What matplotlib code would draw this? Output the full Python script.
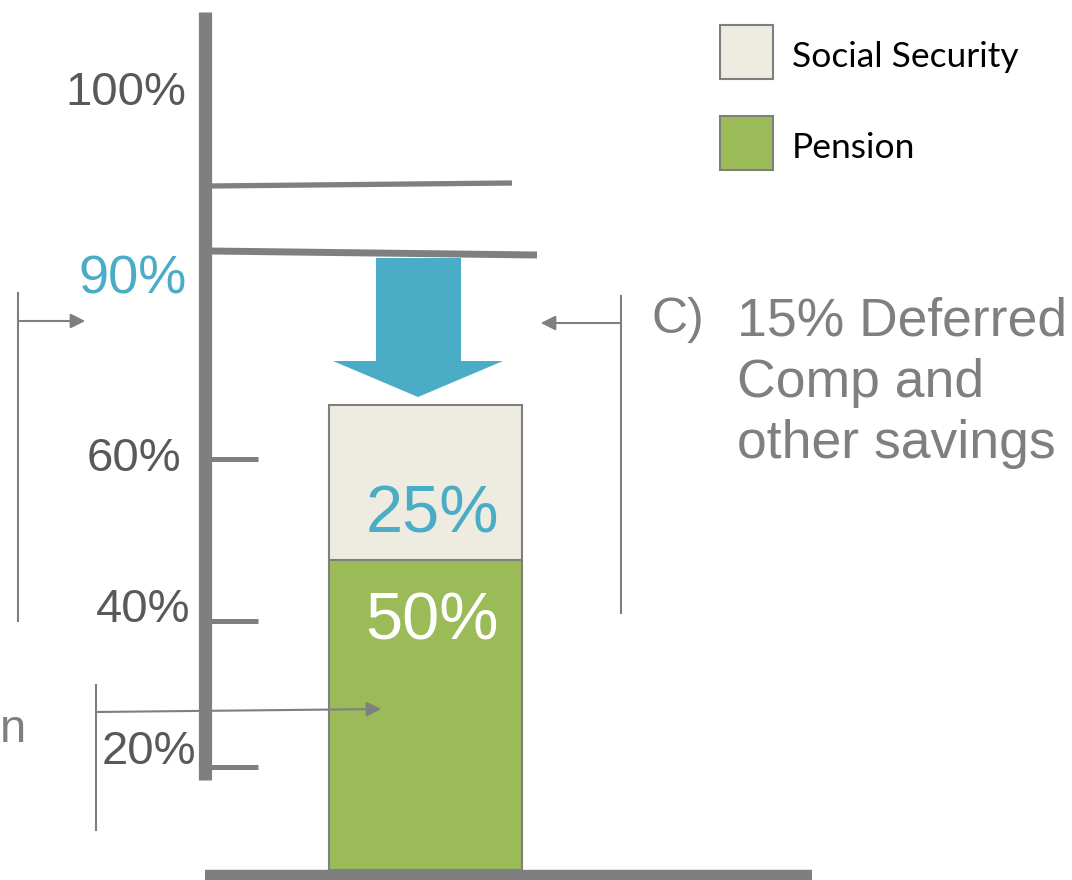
import matplotlib
matplotlib.use("Agg")
from matplotlib import pyplot as plt
from matplotlib.patches import Polygon

# values shown in the chart
segments = ["Pension", "Social Security"]
seg_values = [50, 25]
seg_colors = ["#9bbb59", "#eeece1"]
seg_labels = ["50%", "25%"]
seg_label_colors = ["white", "#4bacc6"]
scale_labels = ["100%", "90%", "60%", "40%", "20%"]
scale_label_y = [93, 280, 459, 610, 752]
scale_label_colors = ["#595959", "#4bacc6", "#595959", "#595959", "#595959"]
note_text = "15% Deferred\nComp and\nother savings"

GRAY = "#7f7f7f"
W, H = 1072, 880
px_per_pct = 6.2
base_px = 870

plt.rcParams["font.family"] = ["Liberation Sans", "DejaVu Sans"]
fig = plt.figure(figsize=(W / 100, H / 100), dpi=100)

# bar axes: x in pixels, y in percent
ax = fig.add_axes([0, 0, 1, 1])
ax.set_xlim(0, W)
ax.set_ylim((base_px - H) / px_per_pct, base_px / px_per_pct)
ax.axis("off")

bottom = 0
label_offsets = [10, 17.8]  # distance of value label below segment top
for name, val, col, lab, lcol, off in zip(segments, seg_values, seg_colors, seg_labels,
                                          seg_label_colors, label_offsets):
    ax.bar(425.5, val, width=193, bottom=bottom, color=col, edgecolor=GRAY, linewidth=1.5, zorder=2)
    ax.text(432, bottom + val - off, lab, color=lcol, fontsize=48, ha="center", va="center", zorder=3)
    bottom += val

# decoration axes in pixel coordinates
d = fig.add_axes([0, 0, 1, 1], zorder=5)
d.set_xlim(0, W)
d.set_ylim(H, 0)
d.axis("off")
d.patch.set_alpha(0)

# thin bracket arrows
d.plot([18, 18], [293, 621], color=GRAY, lw=1.5)
d.annotate("", xy=(88, 321), xytext=(17, 321),
           arrowprops=dict(arrowstyle="-|>", color=GRAY, lw=1.5, mutation_scale=22))
d.plot([621, 621], [296, 613], color=GRAY, lw=1.5)
d.annotate("", xy=(538, 323), xytext=(622, 323),
           arrowprops=dict(arrowstyle="-|>", color=GRAY, lw=1.5, mutation_scale=22))
d.plot([96, 96], [685, 830], color=GRAY, lw=1.5)
d.annotate("", xy=(384, 709), xytext=(95, 712),
           arrowprops=dict(arrowstyle="-|>", color=GRAY, lw=1.5, mutation_scale=22))

# main vertical scale and ticks
d.plot([205, 205], [12, 780], color=GRAY, lw=9.5, solid_capstyle="butt")
for ty in [459, 621, 767]:
    d.plot([210, 258], [ty, ty], color=GRAY, lw=3.6, solid_capstyle="butt")
d.plot([210, 512], [186, 183], color=GRAY, lw=3.8, solid_capstyle="butt")
d.plot([210, 537], [251, 255], color=GRAY, lw=5, solid_capstyle="butt")
d.plot([205, 812], [875, 875], color=GRAY, lw=7.5, solid_capstyle="butt")

# blue drop arrow
d.add_patch(Polygon([(376, 258), (461, 258), (461, 361), (503, 361), (418, 397),
                     (333, 361), (376, 361)], closed=True, color="#4bacc6", lw=0))

label_right = [186, 187, 181, 190, 196]
for lab, y, c, xr in zip(scale_labels, scale_label_y, scale_label_colors, label_right):
    fs = 39 if lab == "90%" else 34
    d.text(xr, y, lab, color=c, fontsize=fs, ha="right", va="center")

d.text(0, 730, "n", color=GRAY, fontsize=34, ha="left", va="center")
d.text(651, 320, "C)", color=GRAY, fontsize=36, ha="left", va="center")
d.text(737, 296, note_text, color=GRAY, fontsize=38.5, ha="left", va="top", linespacing=1.3)

# legend
for i, (name, col) in enumerate(zip(segments[::-1], seg_colors[::-1])):
    y0 = 25 + i * 91
    d.add_patch(plt.Rectangle((720, y0), 53, 54, facecolor=col, edgecolor=GRAY, lw=1.5))
    d.text(792, y0 + 32, name, color="black", fontsize=25.5, ha="left", va="center",
           family=["Lato", "DejaVu Sans"])

plt.savefig("out.png", dpi=100)
